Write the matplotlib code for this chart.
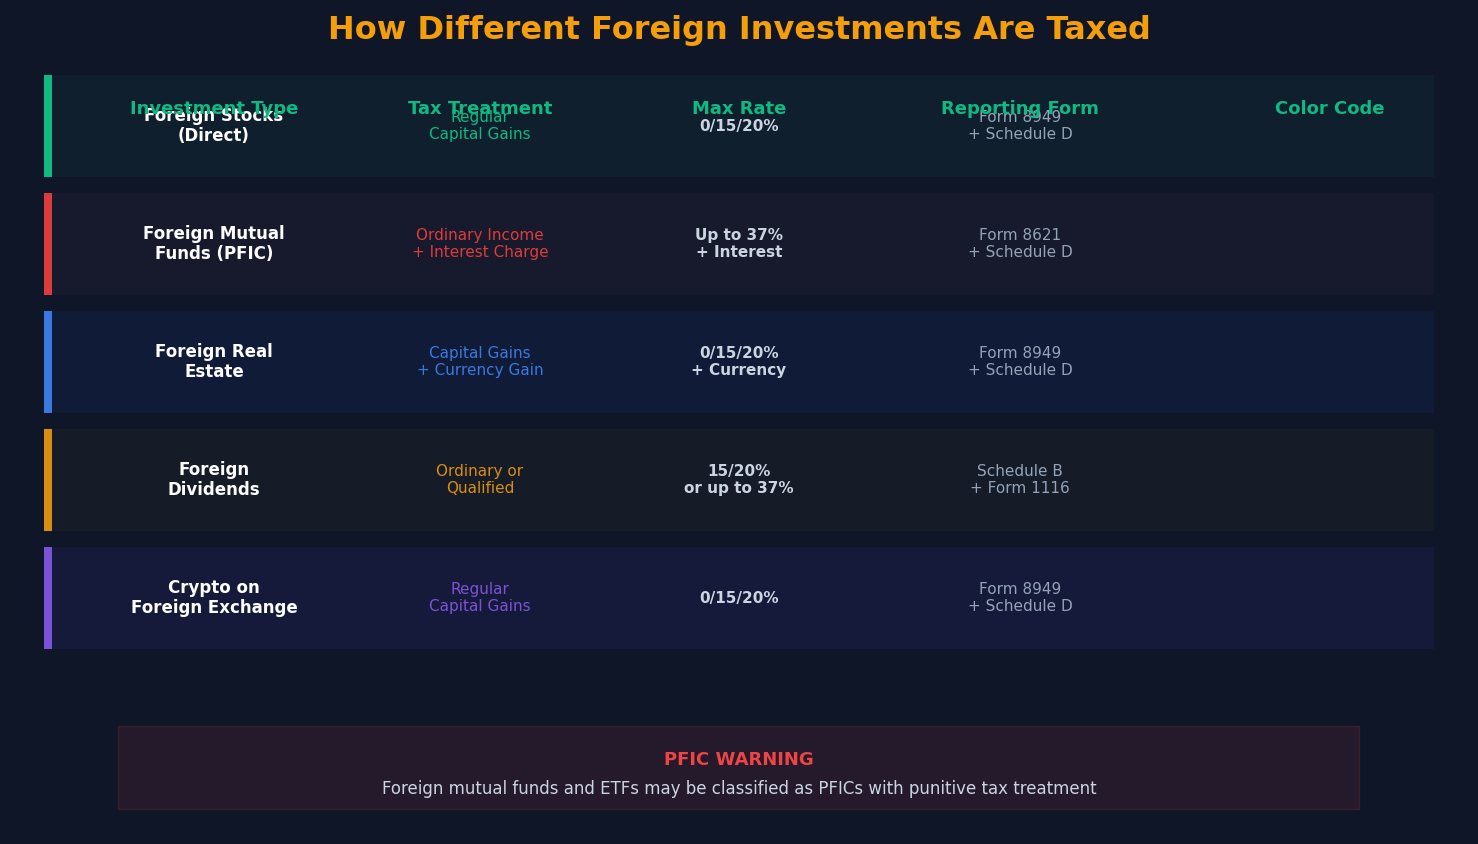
import matplotlib
matplotlib.use("Agg")
import matplotlib.pyplot as plt
from matplotlib.patches import Rectangle

BG = "#0e1628"
headers = ["Investment Type", "Tax Treatment", "Max Rate", "Reporting Form", "Color Code"]
types = ["Foreign Stocks\n(Direct)", "Foreign Mutual\nFunds (PFIC)", "Foreign Real\nEstate",
         "Foreign\nDividends", "Crypto on\nForeign Exchange"]
treatments = ["Regular\nCapital Gains", "Ordinary Income\n+ Interest Charge",
              "Capital Gains\n+ Currency Gain", "Ordinary or\nQualified", "Regular\nCapital Gains"]
rates = ["0/15/20%", "Up to 37%\n+ Interest", "0/15/20%\n+ Currency",
         "15/20%\nor up to 37%", "0/15/20%"]
forms = ["Form 8949\n+ Schedule D", "Form 8621\n+ Schedule D", "Form 8949\n+ Schedule D",
         "Schedule B\n+ Form 1116", "Form 8949\n+ Schedule D"]
accents = ["#10b981", "#dc3c3c", "#3b78e0", "#d98e12", "#7c52d8"]
row_bg = ["#0f1f2e", "#161a2c", "#0f1b37", "#151b27", "#161a3a"]

col_x = [214, 480, 739, 1020, 1330]

fig = plt.figure(figsize=(14.78, 8.44), dpi=100)
fig.patch.set_facecolor(BG)
ax = fig.add_axes([0, 0, 1, 1])
ax.set_xlim(0, 1478)
ax.set_ylim(844, 0)
ax.axis("off")

ax.text(739, 31, "How Different Foreign Investments Are Taxed", ha="center", va="center",
        color="#f59e0b", fontsize=23, fontweight="bold")

row_top, row_h, step = 75, 102, 118
for i in range(len(types)):
    y0 = row_top + i * step
    yc = y0 + row_h / 2
    ax.add_patch(Rectangle((44, y0), 1390, row_h, color=row_bg[i], lw=0))
    ax.add_patch(Rectangle((44, y0), 8, row_h, color=accents[i], lw=0))
    kw = dict(ha="center", va="center", fontsize=11, linespacing=1.2)
    ax.text(col_x[0], yc, types[i], color="white", fontweight="bold",
            ha="center", va="center", fontsize=12, linespacing=1.15)
    ax.text(col_x[1], yc, treatments[i], color=accents[i], **kw)
    ax.text(col_x[2], yc, rates[i], color="#cbd5e1", fontweight="bold", **kw)
    ax.text(col_x[3], yc, forms[i], color="#94a3b8", **kw)

for x, h in zip(col_x, headers):
    ax.text(x, 109, h, ha="center", va="center", color="#10b981", fontsize=13, fontweight="bold")

ax.add_patch(Rectangle((118, 726), 1241, 83, facecolor="#241a2c", edgecolor="#3a1f2a", lw=1))
ax.text(739, 760, "PFIC WARNING", ha="center", va="center", color="#ef4444",
        fontsize=13, fontweight="bold")
ax.text(739, 789, "Foreign mutual funds and ETFs may be classified as PFICs with punitive tax treatment",
        ha="center", va="center", color="#cbd5e1", fontsize=12)

fig.savefig("out.png", facecolor=BG)
